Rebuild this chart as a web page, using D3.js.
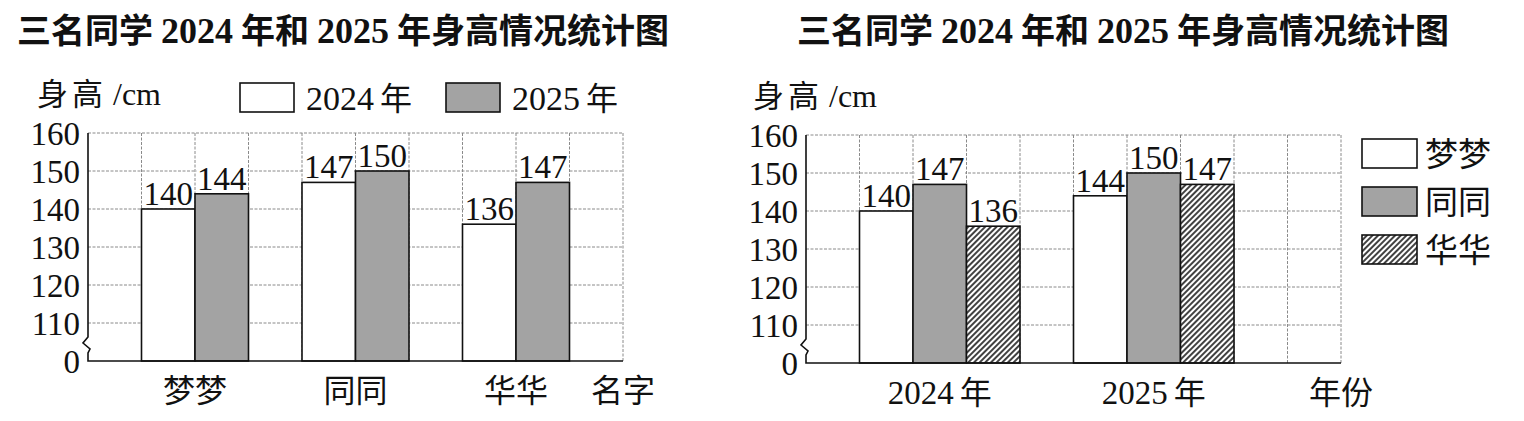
<!DOCTYPE html>
<html><head><meta charset="utf-8">
<script src="https://cdn.jsdelivr.net/npm/d3@7/dist/d3.min.js"></script>
<style>html,body{margin:0;padding:0;background:#fff;}svg{display:block;}</style>
</head><body>
<svg id="c" width="1524" height="421"></svg>
<script>
// ---- data ----
const names = ["梦梦", "同同", "华华"];
const years = ["2024", "2025"];
const h2024 = [140, 147, 136];
const h2025 = [144, 150, 147];
const yTicks = [0, 110, 120, 130, 140, 150, 160];
const titleParts = ["三名同学", "2024", "年和", "2025", "年身高情况统计图"];
const yLabel = ["身高", "/cm"];
const xLabel1 = "名字";
const xLabel2 = "年份";

const SERIF = "'Liberation Serif','DejaVu Serif',serif";
const CJK = "'Noto Sans CJK SC','Noto Sans CJK JP',sans-serif";
const GRAY = "#a3a3a3";

const svg = d3.select("#c");
const defs = svg.append("defs");
const pat = defs.append("pattern").attr("id", "hatch").attr("patternUnits", "userSpaceOnUse")
  .attr("width", 4).attr("height", 4).attr("patternTransform", "rotate(45)");
pat.append("rect").attr("width", 4).attr("height", 4).attr("fill", "#fff");
pat.append("line").attr("x1", 1).attr("y1", 0).attr("x2", 1).attr("y2", 4)
  .attr("stroke", "#111").attr("stroke-width", 1.6);

const fills = { white: "#fff", gray: GRAY, hatch: "url(#hatch)" };

function drawTitle(x0, y0) {
  const t = svg.append("text").attr("x", x0).attr("y", y0).attr("font-size", 34)
    .attr("font-family", CJK).attr("font-weight", 700).attr("fill", "#111");
  titleParts.forEach((p, i) => {
    const isNum = /^\d+$/.test(p);
    t.append("tspan").text(p)
      .attr("font-family", isNum ? SERIF : CJK)
      .attr("font-size", isNum ? 36 : 34)
      .attr("font-weight", 700)
      .attr("dx", i === 0 ? 0 : 8);
  });
}

function drawChart(cfg) {
  const g = svg.append("g");
  const nCols = 10;
  const x = d3.scaleLinear().domain([0, nCols]).range([cfg.left, cfg.right]);
  const y = d3.scaleLinear().domain([0, 110, 160]).range([cfg.base, cfg.base - (cfg.base - cfg.top) / 6, cfg.top]);
  const colW = x(1) - x(0);

  // grid
  const grid = g.append("g").attr("stroke", "#8a8a8a").attr("stroke-width", 1).attr("stroke-dasharray", "3,1.5").attr("fill", "none");
  grid.selectAll("line.h").data(yTicks.filter(v => v > 0)).join("line")
    .attr("x1", x(0)).attr("x2", x(nCols)).attr("y1", d => y(d)).attr("y2", d => y(d));
  grid.selectAll("line.v").data(d3.range(1, nCols + 1)).join("line")
    .attr("x1", d => x(d)).attr("x2", d => x(d)).attr("y1", y(160)).attr("y2", y(0));

  // bars
  const nB = cfg.groups[0].length;
  cfg.groups.forEach((vals, gi) => {
    const start = 1 + gi * (nB + 1);
    vals.forEach((v, bi) => {
      const bx = x(start + bi), top = y(v);
      g.append("rect").attr("x", bx).attr("y", top).attr("width", colW).attr("height", y(0) - top)
        .attr("fill", fills[cfg.fills[bi]]).attr("stroke", "#111").attr("stroke-width", 1.6);
      g.append("rect").attr("x", bx + 1.5).attr("y", top - 27).attr("width", colW - 3).attr("height", 25).attr("fill", "#fff");
      g.append("text").attr("x", bx + colW / 2).attr("y", top - 4).attr("text-anchor", "middle")
        .attr("font-family", SERIF).attr("font-size", 33).attr("fill", "#111").text(v);
    });
    // category label
    const cx = x(start + nB / 2);
    const lab = cfg.cats[gi];
    const t = g.append("text").attr("x", cx).attr("y", cfg.base + 41).attr("text-anchor", "middle").attr("fill", "#111").attr("font-size", 32);
    if (/^\d+$/.test(lab)) {
      t.append("tspan").attr("font-family", SERIF).attr("font-size", 33).text(lab);
      t.append("tspan").attr("font-family", CJK).attr("dx", 6).text("年");
    } else {
      t.attr("font-family", CJK).text(lab);
    }
  });

  // axis tick labels via d3 axis
  const ax = g.append("g").attr("transform", `translate(${cfg.left - 8},0)`)
    .call(d3.axisLeft(y).tickValues(yTicks).tickSize(0).tickPadding(0).tickFormat(d3.format("d")));
  ax.select(".domain").remove();
  ax.selectAll("text").attr("font-family", SERIF).attr("font-size", 33).attr("fill", "#111").attr("dy", "0.34em");

  // axis line with break + baseline
  const L = x(0), b0 = y(0);
  g.append("path").attr("fill", "none").attr("stroke", "#111").attr("stroke-width", 1.6)
    .attr("d", `M${L},${y(160)} V${b0 - 24} L${L - 5},${b0 - 18} L${L + 2},${b0 - 12} L${L},${b0 - 8} V${b0} H${x(nCols)}`);

  // x-axis title
  g.append("text").attr("x", x(nCols)).attr("y", cfg.base + 41).attr("text-anchor", "middle")
    .attr("font-family", CJK).attr("font-size", 32).attr("fill", "#111").text(cfg.xTitle);

  // y-axis title
  const yt = g.append("text").attr("x", cfg.yTitleX).attr("y", cfg.top - 28).attr("fill", "#111").attr("font-size", 31);
  yt.append("tspan").attr("font-family", CJK).attr("letter-spacing", 4).text(yLabel[0]);
  yt.append("tspan").attr("font-family", SERIF).attr("font-size", 32).attr("dx", 6).text(yLabel[1]);
  return { x, y };
}

drawTitle(17, 43);
drawTitle(797, 43);

drawChart({
  left: 88, right: 623, top: 133, base: 361,
  groups: names.map((n, i) => [h2024[i], h2025[i]]),
  cats: names, fills: ["white", "gray"], xTitle: xLabel1, yTitleX: 37
});
drawChart({
  left: 806, right: 1341, top: 135, base: 363,
  groups: years.map((yr, i) => (i === 0 ? h2024 : h2025)),
  cats: years, fills: ["white", "gray", "hatch"], xTitle: xLabel2, yTitleX: 753
});

// legend left chart (years)
const leg1 = svg.append("g");
years.forEach((yr, i) => {
  const bx = 240 + i * 206;
  leg1.append("rect").attr("x", bx).attr("y", 83).attr("width", 54).attr("height", 29)
    .attr("fill", fills[["white", "gray"][i]]).attr("stroke", "#111").attr("stroke-width", 1.6);
  const t = leg1.append("text").attr("x", bx + 66).attr("y", 110).attr("font-size", 34).attr("fill", "#111");
  t.append("tspan").attr("font-family", SERIF).text(yr);
  t.append("tspan").attr("font-family", CJK).attr("dx", 6).attr("font-size", 32).text("年");
});

// legend right chart (names)
const leg2 = svg.append("g");
names.forEach((n, i) => {
  const by = 139 + i * 48;
  leg2.append("rect").attr("x", 1362).attr("y", by).attr("width", 55).attr("height", 29)
    .attr("fill", fills[["white", "gray", "hatch"][i]]).attr("stroke", "#111").attr("stroke-width", 1.6);
  leg2.append("text").attr("x", 1425).attr("y", by + 14.5 + 12.5).attr("font-family", CJK)
    .attr("font-size", 33).attr("fill", "#111").text(n);
});
</script>
</body></html>
